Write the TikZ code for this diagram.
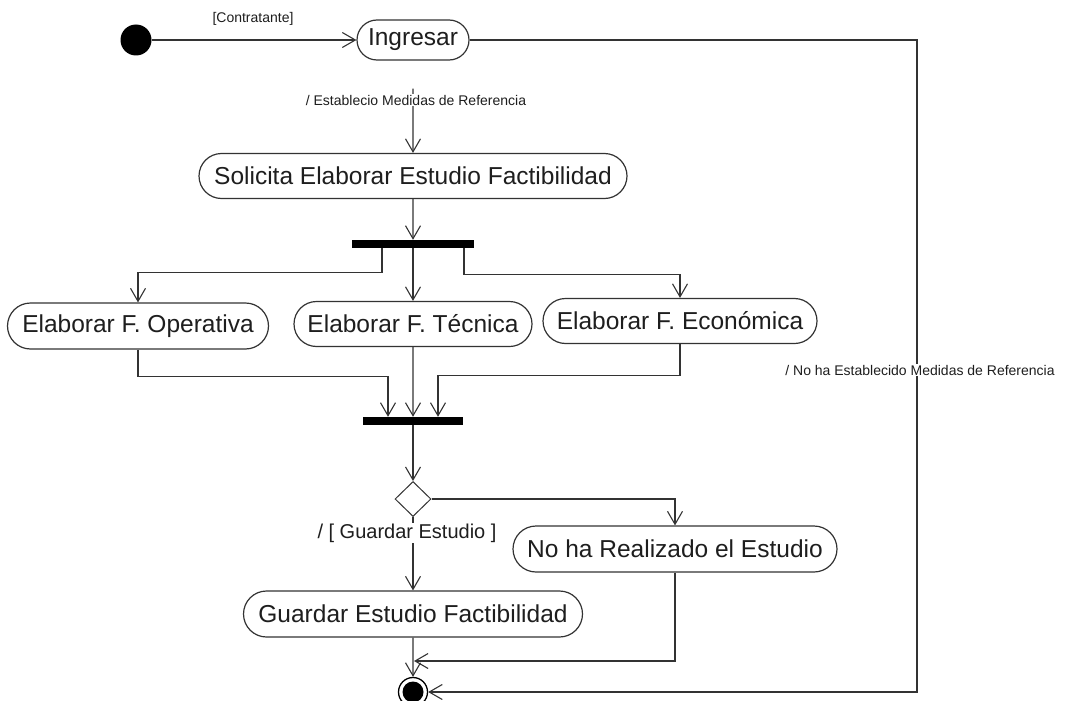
\documentclass[tikz,border=0pt]{standalone}
\usepackage{fontspec}
\setmainfont{Liberation Sans}
\usetikzlibrary{arrows.meta,shapes.misc,shapes.geometric}
\definecolor{ink}{HTML}{333333}
\definecolor{txt}{HTML}{1E1E1E}
\begin{document}
\begin{tikzpicture}[x=1pt,y=-1pt,
  state/.style={rounded rectangle, draw=ink, line width=1.2pt, fill=white,
    inner sep=0pt, text=txt, font=\fontsize{24.5}{28}\selectfont},
  flow/.style={draw=ink, line width=1.1pt, -{Straight Barb[length=13pt,width=15pt]}},
  bar/.style={fill=black, inner sep=0pt, minimum height=8pt},
  lbl/.style={font=\fontsize{14}{16}\selectfont, text=txt, fill=white, inner sep=1pt},
  initial/.style={circle, fill=black, minimum size=31pt, inner sep=0pt},
  final/.style={circle, draw=black, line width=1.3pt, fill=white, minimum size=29pt,
    inner sep=0pt, path picture={\fill[black] (path picture bounding box.center) circle (10.5pt);}},
  choice/.style={diamond, draw=ink, line width=1pt, fill=white, inner sep=0pt,
    minimum width=36pt, minimum height=35pt},
]
\useasboundingbox (0,0) rectangle (1065,701);

% states
\node[initial] (start) at (136,40) {};
\node[state, minimum width=112pt, minimum height=40pt] (ing) at (413,40) {Ingresar};
\node[state, minimum width=428pt, minimum height=45pt] (sol) at (413,176) {Solicita Elaborar Estudio Factibilidad};
\node[bar, minimum width=122pt] (fork) at (413,244) {};
\node[state, minimum width=261pt, minimum height=46pt] (op) at (138,326) {Elaborar F. Operativa};
\node[state, minimum width=238pt, minimum height=45pt] (tec) at (413,324) {Elaborar F. Técnica};
\node[state, minimum width=274pt, minimum height=45pt] (eco) at (680,321) {Elaborar F. Económica};
\node[bar, minimum width=100pt] (join) at (413,421) {};
\node[choice] (dec) at (413,499) {};
\node[state, minimum width=324pt, minimum height=46pt] (noha) at (675,549) {No ha Realizado el Estudio};
\node[state, minimum width=339pt, minimum height=46pt] (guard) at (413,614) {Guardar Estudio Factibilidad};
\node[final] (end) at (413,692) {};
\coordinate (merge) at (414,661);

% transitions
\draw[flow] (start) -- (ing);
\draw[flow, shorten <=28pt] (ing) -- (sol);
\draw[flow] (ing.east) -| (917,692) -- (end);
\draw[flow] (sol) -- (fork);
\draw[flow] ([xshift=-31pt]fork.south) -- ++(0,24) -| (op.north);
\draw[flow] (fork) -- (tec);
\draw[flow] ([xshift=51pt]fork.south) -- ++(0,26) -| (eco.north);
\draw[flow] (op.south) -- ++(0,27) -| ([xshift=-25pt]join.north);
\draw[flow] (tec) -- (join);
\draw[flow] (eco.south) -- ++(0,31) -| ([xshift=25pt]join.north);
\draw[flow] (join) -- (dec);
\draw[flow] (dec.east) -| (noha.north);
\draw[flow] (dec) -- (guard);
\draw[flow] (guard) -- (end);
\draw[flow] (noha.south) |- (merge);

% transition labels
\node[lbl] (l1) at (253,19) {[Contratante]};
\node[lbl] (l2) at (416,100) {/ Establecio Medidas de Referencia};
\node[lbl] (l3) at (920,370) {/ No ha Establecido Medidas de Referencia};
\node[lbl, font=\fontsize{20}{22}\selectfont] (l4) at (407,533) {/ [ Guardar Estudio ]};
\end{tikzpicture}
\end{document}
